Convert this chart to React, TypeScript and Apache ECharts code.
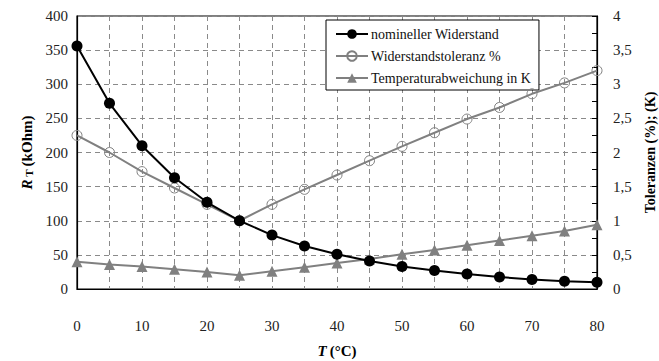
import React, { useEffect, useRef } from "react";
import * as echarts from "echarts";

// Temperature in °C
const temperatures = [0, 5, 10, 15, 20, 25, 30, 35, 40, 45, 50, 55, 60, 65, 70, 75, 80];
// Nominal resistance R_T in kOhm
const nominalResistance = [356, 272, 210, 163, 127, 100, 79, 63, 51, 41, 33, 27, 22, 17.5, 14, 11.5, 10];
// Resistance tolerance in %
const resistanceTolerance = [2.25, 2.0, 1.72, 1.48, 1.24, 1.0, 1.24, 1.46, 1.67, 1.88, 2.09, 2.29, 2.49, 2.66, 2.86, 3.02, 3.2];
// Temperature deviation in K
const temperatureDeviation = [0.4, 0.36, 0.33, 0.29, 0.25, 0.2, 0.26, 0.32, 0.38, 0.44, 0.51, 0.57, 0.64, 0.71, 0.78, 0.85, 0.94];

const seriesNames = ["nomineller Widerstand", "Widerstandstoleranz %", "Temperaturabweichung in K"];

const FONT = "Liberation Serif";

export default function App() {
  const ref = useRef<HTMLDivElement>(null);

  useEffect(() => {
    if (!ref.current) return;
    const chart = echarts.init(ref.current, undefined, { renderer: "svg" });
    const pair = (ys: number[]) => temperatures.map((t, i) => [t, ys[i]]);
    const gridDash = { color: "#8a8a8a", type: [5, 4] as number[], width: 1 };

    chart.setOption({
      animation: false,
      backgroundColor: "#ffffff",
      textStyle: { fontFamily: FONT },
      grid: {
        left: 77,
        right: 62,
        top: 16,
        bottom: 72,
        outerBoundsMode: "none",
        containLabel: false,
        show: true,
        borderColor: "#000",
        borderWidth: 1.2,
        backgroundColor: "transparent",
      },
      legend: {
        orient: "vertical",
        left: 326,
        top: 20,
        padding: [7, 8, 5, 9],
        itemGap: 8,
        itemWidth: 32,
        itemHeight: 12,
        backgroundColor: "#fff",
        borderColor: "#000",
        borderWidth: 1,
        borderRadius: 0,
        textStyle: { fontFamily: FONT, fontSize: 14, color: "#111", padding: [0, 0, 0, -2] },
        data: seriesNames,
      },
      xAxis: {
        type: "value",
        min: 0,
        max: 80,
        interval: 5,
        name: "{i|T} {b|(°C)}",
        nameLocation: "middle",
        nameGap: 54,
        nameTextStyle: {
          rich: {
            i: { fontFamily: FONT, fontSize: 15, fontWeight: "bold", fontStyle: "italic", color: "#000" },
            b: { fontFamily: FONT, fontSize: 15, fontWeight: "bold", color: "#000" },
          },
        },
        axisLine: { show: true, lineStyle: { color: "#000", width: 1.2 } },
        axisTick: { show: false },
        axisLabel: {
          margin: 29,
          fontFamily: FONT,
          fontSize: 15,
          color: "#222",
          formatter: (v: number) => (v % 10 === 0 ? String(v) : ""),
        },
        splitLine: { show: true, lineStyle: gridDash },
      },
      yAxis: [
        {
          type: "value",
          min: 0,
          max: 400,
          interval: 50,
          name: "{i|R}{s| T} {b|(kOhm)}",
          nameLocation: "middle",
          nameGap: 38,
          nameRotate: 90,
          nameTextStyle: {
            rich: {
              i: { fontFamily: FONT, fontSize: 15, fontWeight: "bold", fontStyle: "italic", color: "#000" },
              s: { fontFamily: FONT, fontSize: 11, fontWeight: "bold", color: "#000", padding: [5, 0, 0, 0] },
              b: { fontFamily: FONT, fontSize: 15, fontWeight: "bold", color: "#000" },
            },
          },
          axisLine: { show: true, lineStyle: { color: "#000", width: 1.2 } },
          axisTick: { show: false },
          axisLabel: { margin: 9, fontFamily: FONT, fontSize: 15, color: "#222" },
          splitLine: { show: true, lineStyle: gridDash },
        },
        {
          type: "value",
          min: 0,
          max: 4,
          interval: 0.5,
          position: "right",
          name: "Toleranzen (%); (K)",
          nameLocation: "middle",
          nameGap: 46,
          nameRotate: 90,
          nameTextStyle: { fontFamily: FONT, fontSize: 14, fontWeight: "bold", color: "#000" },
          axisLine: { show: true, lineStyle: { color: "#000", width: 1.2 } },
          axisTick: { show: true, inside: true, length: 5, lineStyle: { color: "#000" } },
          minorTick: { show: true, splitNumber: 2, length: 5, lineStyle: { color: "#000" } },
          axisLabel: {
            margin: 16,
            fontFamily: FONT,
            fontSize: 15,
            color: "#222",
            formatter: (v: number) => String(v).replace(".", ","),
          },
          splitLine: { show: false },
        },
      ],
      series: [
        {
          name: seriesNames[0],
          type: "line",
          yAxisIndex: 0,
          data: pair(nominalResistance),
          symbol: "circle",
          symbolSize: 11,
          z: 5,
          lineStyle: { color: "#000", width: 2 },
          itemStyle: { color: "#000" },
        },
        {
          name: seriesNames[1],
          type: "line",
          yAxisIndex: 1,
          data: pair(resistanceTolerance),
          symbol: "circle",
          symbolSize: 10,
          z: 4,
          lineStyle: { color: "#808080", width: 2 },
          itemStyle: { color: "rgba(255,255,255,0)", borderColor: "#808080", borderWidth: 1 },
        },
        {
          name: seriesNames[2],
          type: "line",
          yAxisIndex: 1,
          data: pair(temperatureDeviation),
          symbol: "triangle",
          symbolSize: 11,
          z: 3,
          lineStyle: { color: "#808080", width: 2 },
          itemStyle: { color: "#808080" },
        },
      ],
    });

    return () => chart.dispose();
  }, []);

  return <div ref={ref} style={{ position: "absolute", left: 0, top: 0, width: 659, height: 361 }} />;
}
